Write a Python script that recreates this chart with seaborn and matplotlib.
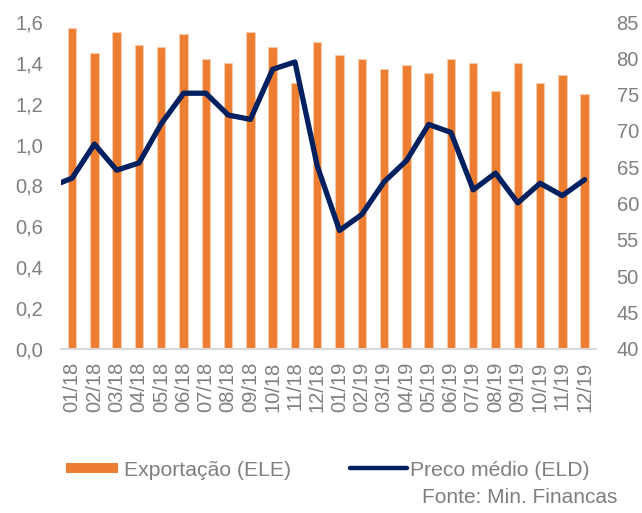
import numpy as np
import pandas as pd
import matplotlib
matplotlib.use("Agg")
import matplotlib.pyplot as plt
import seaborn as sns
from matplotlib.patches import Patch
from matplotlib.lines import Line2D
from matplotlib.ticker import FuncFormatter

# Data
months = ["01/18", "02/18", "03/18", "04/18", "05/18", "06/18", "07/18", "08/18",
          "09/18", "10/18", "11/18", "12/18", "01/19", "02/19", "03/19", "04/19",
          "05/19", "06/19", "07/19", "08/19", "09/19", "10/19", "11/19", "12/19"]
exports_ele = [1.57, 1.45, 1.55, 1.49, 1.48, 1.54, 1.42, 1.40, 1.55, 1.48, 1.30, 1.50,
               1.44, 1.42, 1.37, 1.39, 1.35, 1.42, 1.40, 1.26, 1.40, 1.30, 1.34, 1.25]
# price includes the previous month (12/17), whose segment is clipped at the left edge
price_months = ["12/17"] + months
price_eld = [62.3, 63.5, 68.2, 64.6, 65.6, 71.0, 75.2, 75.2, 72.2, 71.6, 78.5, 79.5, 65.2,
             56.3, 58.5, 63.0, 65.9, 70.9, 69.8, 61.9, 64.2, 60.1, 62.8, 61.1, 63.3]

orange = "#ED7D31"
navy = "#002060"
grey = "#7F7F7F"

sns.set_style("white")
plt.rcParams["font.family"] = ["Liberation Sans", "DejaVu Sans"]
plt.rcParams["font.size"] = 14.5

df_bar = pd.DataFrame({"month": months, "value": exports_ele})
df_line = pd.DataFrame({"pos": np.arange(-1, len(months)), "price": price_eld})

fig = plt.figure(figsize=(6.42, 5.13), dpi=100)
ax = fig.add_axes([0.095, 0.32, 0.833, 0.637])

sns.barplot(data=df_bar, x="month", y="value", color=orange, width=0.38,
            edgecolor="#F8CBAD", linewidth=0.8, saturation=1, ax=ax)
ax.set_ylim(0, 1.6)
ax.set_yticks(np.arange(0, 1.61, 0.2))
ax.yaxis.set_major_formatter(FuncFormatter(lambda v, p: f"{v:.1f}".replace(".", ",")))
ax.set_xlabel("")
ax.set_ylabel("")

ax2 = ax.twinx()
sns.lineplot(data=df_line, x="pos", y="price", color=navy, linewidth=3.8, ax=ax2,
             solid_capstyle="round", solid_joinstyle="round")
ax2.set_ylim(40, 85)
ax2.set_yticks(np.arange(40, 86, 5))
ax2.set_xlabel("")
ax2.set_ylabel("")
ax.set_xlim(-0.5, len(months) - 0.5)

for a in (ax, ax2):
    for s in a.spines.values():
        s.set_visible(False)
    a.tick_params(length=0, colors=grey, labelsize=14.5)
ax.spines["bottom"].set_visible(True)
ax.spines["bottom"].set_color("#D9D9D9")
ax.spines["bottom"].set_linewidth(1.5)
ax.tick_params(axis="y", pad=13)
ax2.tick_params(axis="y", pad=15)
ax.tick_params(axis="x", pad=9)
plt.setp(ax.get_xticklabels(), rotation=90)

# legend: two pieces so each handle gets its own length
leg_kw = dict(loc="center left", frameon=False, borderpad=0, borderaxespad=0,
              labelcolor=grey, fontsize=15.2)
leg1 = fig.legend(handles=[Patch(facecolor=orange, edgecolor="none", label="Exportação (ELE)")],
                  bbox_to_anchor=(66 / 642, 0.0838), handlelength=2.45, handleheight=0.42,
                  handletextpad=0.28, **leg_kw)
fig.legend(handles=[Line2D([], [], color=navy, linewidth=3.2, solid_capstyle="round",
                           label="Preco médio (ELD)")],
           bbox_to_anchor=(350 / 642, 0.0838), handlelength=2.7, handletextpad=0.15, **leg_kw)

fig.text(617 / 642, 0.031, "Fonte: Min. Financas", ha="right", va="center",
         color=grey, fontsize=15)

fig.savefig("out.png", dpi=100)
